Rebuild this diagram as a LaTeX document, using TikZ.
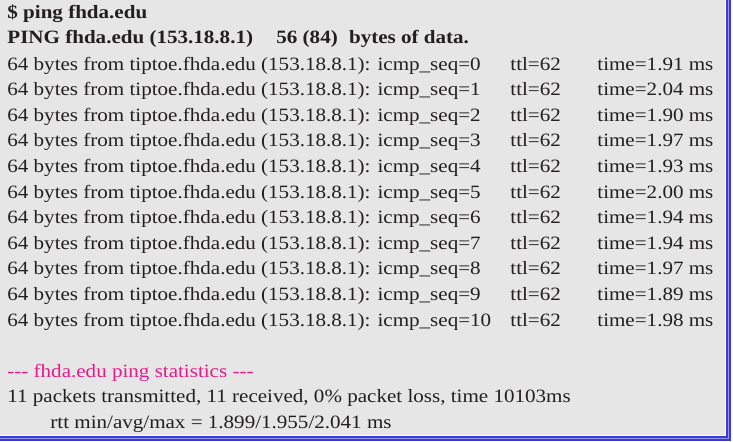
\documentclass[tikz,border=0pt]{standalone}
\usepackage{fontspec}
\setmainfont[FakeStretch=1.12]{Liberation Serif}
\usepackage{tikz}
\usetikzlibrary{positioning}
\definecolor{panelgray}{RGB}{230,230,230}
\definecolor{inkgray}{RGB}{35,31,32}
\definecolor{framedark}{RGB}{58,58,216}
\definecolor{framelight}{RGB}{150,150,232}
\definecolor{statpink}{RGB}{229,27,137}

\begin{document}
\begin{tikzpicture}[x=0.5pt,y=-0.5pt,
  txt/.style={anchor=base west,inner sep=0pt,text=inkgray,font=\fontsize{9.4pt}{12.8pt}\selectfont},
  cmd/.style={txt,font=\fontsize{9.4pt}{12.8pt}\selectfont\bfseries}]
\newcommand{\Host}{64 bytes from tiptoe.fhda.edu (153.18.8.1): icmp\_seq=}
\newcommand{\Ttl}{ttl=62}
\newcommand{\TtlX}{510}
\newcommand{\TimeX}{597}
\useasboundingbox (0,0) rectangle (733,441);
\coordinate (TL) at (0,0);
\coordinate (TR) at (725,0);
\coordinate (BR) at (725,435);
\coordinate (BL) at (0,435);
\coordinate (R) at (728.3,0);
\coordinate (C) at (728.3,438.3);
\coordinate (L) at (0,438.3);

\fill[panelgray] (TL) -- (TR) -- (BR) -- (BL) -- cycle;% Panel
\draw[framedark,line width=2.6pt] (R) -- (C) -- (L);% Frame
\draw[framelight,line width=0.5pt] (R) -- (C) -- (L);

\node[cmd] (prompt) at (7,18) {\$ ping fhda.edu};
\node[cmd] (head) at (7,43.5) {PING fhda.edu (153.18.8.1)};
\node[cmd] (size) at (276,43.5) {56 (84)\hspace{0.6em}bytes of data.};

\node[txt] (seq0) at (7,70) {\Host0}; \node[txt] (ttl0) at (\TtlX,70) {\Ttl}; \node[txt] (time0) at (\TimeX,70) {time=1.91 ms};
\node[txt] (seq1) at (7,95.6) {\Host1}; \node[txt] (ttl1) at (\TtlX,95.6) {\Ttl}; \node[txt] (time1) at (\TimeX,95.6) {time=2.04 ms};
\node[txt] (seq2) at (7,121.2) {\Host2}; \node[txt] (ttl2) at (\TtlX,121.2) {\Ttl}; \node[txt] (time2) at (\TimeX,121.2) {time=1.90 ms};
\node[txt] (seq3) at (7,146.8) {\Host3}; \node[txt] (ttl3) at (\TtlX,146.8) {\Ttl}; \node[txt] (time3) at (\TimeX,146.8) {time=1.97 ms};
\node[txt] (seq4) at (7,172.4) {\Host4}; \node[txt] (ttl4) at (\TtlX,172.4) {\Ttl}; \node[txt] (time4) at (\TimeX,172.4) {time=1.93 ms};
\node[txt] (seq5) at (7,198) {\Host5}; \node[txt] (ttl5) at (\TtlX,198) {\Ttl}; \node[txt] (time5) at (\TimeX,198) {time=2.00 ms};
\node[txt] (seq6) at (7,223.6) {\Host6}; \node[txt] (ttl6) at (\TtlX,223.6) {\Ttl}; \node[txt] (time6) at (\TimeX,223.6) {time=1.94 ms};
\node[txt] (seq7) at (7,249.2) {\Host7}; \node[txt] (ttl7) at (\TtlX,249.2) {\Ttl}; \node[txt] (time7) at (\TimeX,249.2) {time=1.94 ms};
\node[txt] (seq8) at (7,274.8) {\Host8}; \node[txt] (ttl8) at (\TtlX,274.8) {\Ttl}; \node[txt] (time8) at (\TimeX,274.8) {time=1.97 ms};
\node[txt] (seq9) at (7,300.4) {\Host9}; \node[txt] (ttl9) at (\TtlX,300.4) {\Ttl}; \node[txt] (time9) at (\TimeX,300.4) {time=1.89 ms};
\node[txt] (seq10) at (7,326) {\Host10}; \node[txt] (ttl10) at (\TtlX,326) {\Ttl}; \node[txt] (time10) at (\TimeX,326) {time=1.98 ms};

\node[txt,text=statpink] (stats) at (7,377) {-{}-{}- fhda.edu ping statistics -{}-{}-};
\node[txt] (loss) at (7,402) {11 packets transmitted, 11 received, 0\% packet loss, time 10103ms};
\node[txt] (rtt) at (50,428) {rtt min/avg/max = 1.899/1.955/2.041 ms};
\end{tikzpicture}
\end{document}
